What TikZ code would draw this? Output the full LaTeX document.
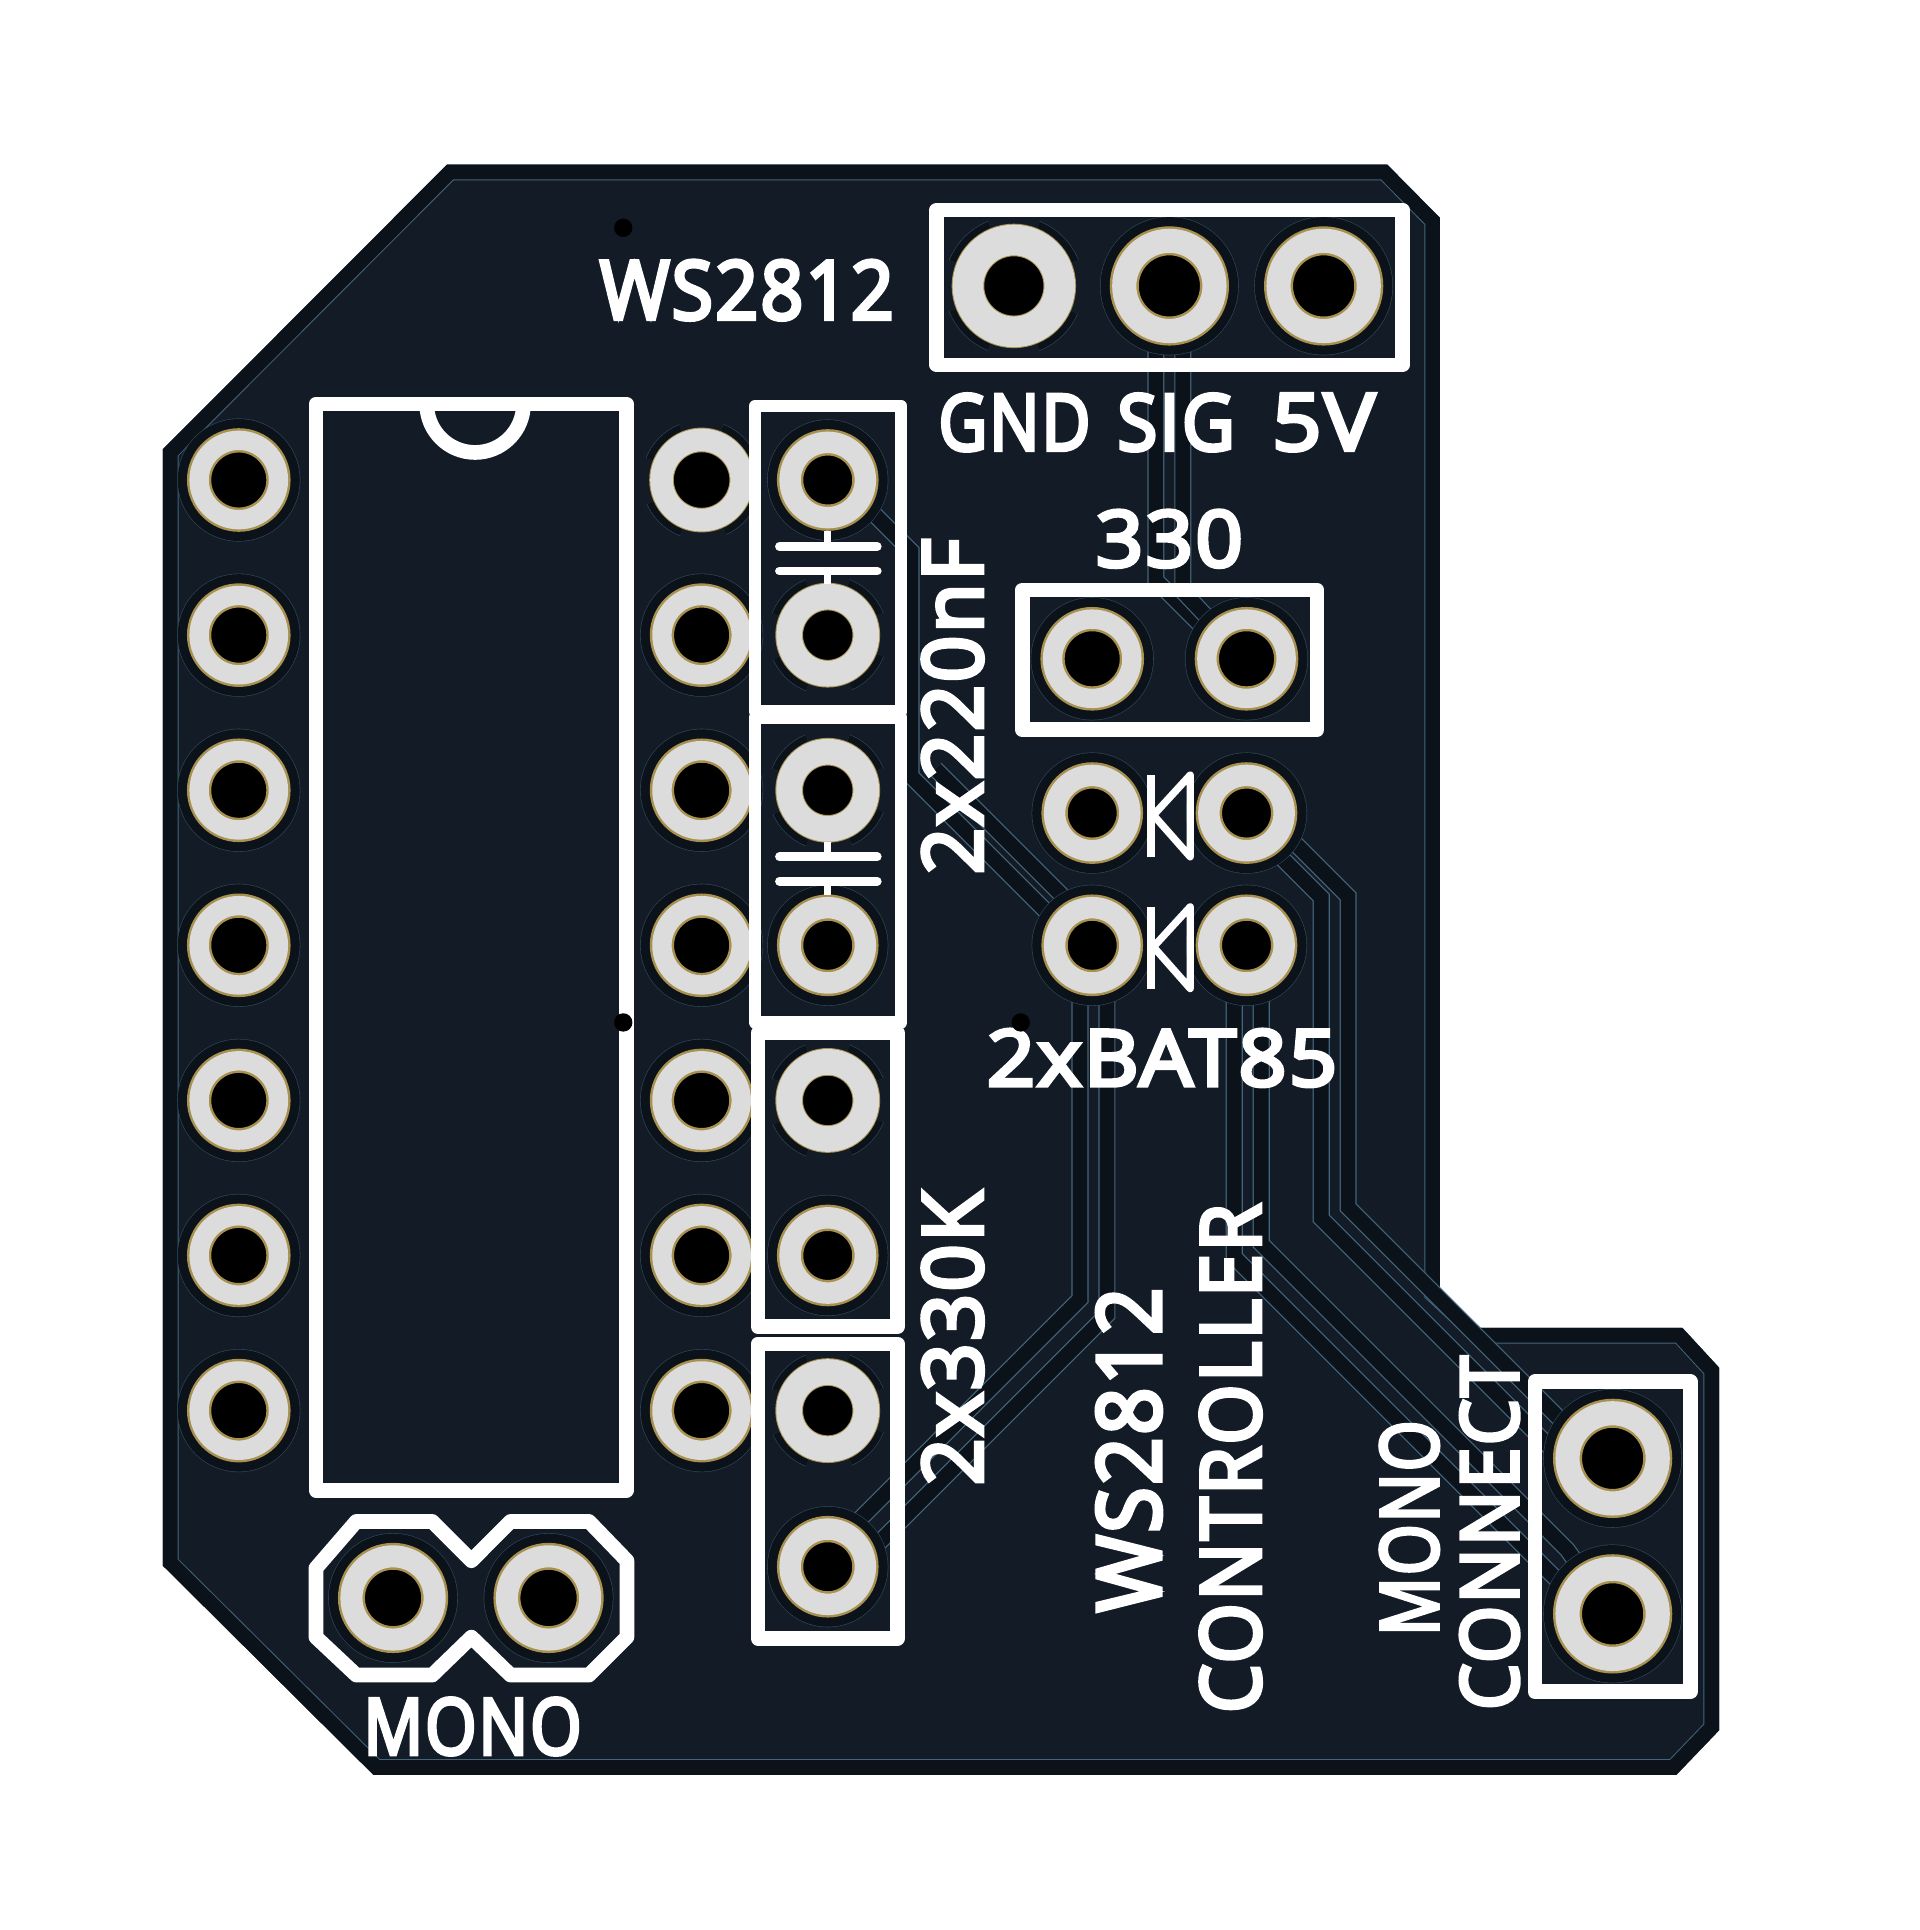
\documentclass[tikz,border=0pt]{standalone}
\usepackage{fontspec}
\usepackage{graphicx}
\usetikzlibrary{backgrounds}
\setmainfont{Liberation Sans}
\newfontfamily\silkfont[FakeBold=5,LetterSpace=3]{Open Sans}
\definecolor{boardblue}{HTML}{131C26}
\definecolor{copperdark}{HTML}{0B1219}
\definecolor{trackedge}{HTML}{44657C}
\definecolor{padgrey}{HTML}{DCDCDC}
\definecolor{padgold}{HTML}{A8914F}
\newcommand{\silktext}[3]{\resizebox{#1pt}{#2pt}{\silkfont #3}}
\tikzset{
  pad/.style 2 args={circle,inner sep=0pt,minimum size=#1pt,draw=padgrey,line width=#2pt,
    preaction={draw=trackedge!60!boardblue,line width=#2pt+10pt},
    preaction={draw=copperdark,line width=#2pt+9.5pt},
    preaction={fill=black,draw=none},
    preaction={draw=padgold,line width=#2pt+2pt}},
  solidpad/.style n args={3}{circle,inner sep=0pt,minimum size=#1pt,draw=padgrey,line width=#2pt,
    preaction={draw=trackedge!60!boardblue,line width=#2pt+7pt,dash pattern=on #3pt off #3pt,dash phase=1.5*#3pt},
    preaction={draw=copperdark,line width=#2pt+6.5pt,dash pattern=on #3pt off #3pt,dash phase=1.5*#3pt},
    preaction={fill=black,draw=none},
    preaction={draw=padgold,line width=#2pt+0.8pt}},
  icpad/.style={pad={32.4}{7.9}},
  cappad/.style={pad={30.75}{8.75}},
  widepad/.style={pad={36.85}{9.85}},
  monopad/.style={pad={34}{9}},
  icsolid/.style={solidpad={32.75}{9.25}{12.9}},
  capsolid/.style={solidpad={31.5}{10.5}{12.4}},
  widesolid/.style={solidpad={37.5}{12.5}{14.7}},
  track/.style={draw=copperdark,line width=6pt,preaction={draw=trackedge,line width=7pt}},
  silk/.style={draw=white,line width=6pt,line join=round},
  silklabel/.style={text=white,inner sep=0pt,outer sep=0pt},
  viadot/.style={fill=black}
}
\begin{document}
\begin{tikzpicture}[x=0.5pt,y=-0.5pt]
  \useasboundingbox (0,0) rectangle (1568,1576.2);
  % pads
  \node[icpad] (pl1) at (195,392) {};
  \node[icpad] (pl2) at (195,518.7) {};
  \node[icpad] (pl3) at (195,645.4) {};
  \node[icpad] (pl4) at (195,772) {};
  \node[icpad] (pl5) at (195,898.7) {};
  \node[icpad] (pl6) at (195,1025.3) {};
  \node[icpad] (pl7) at (195,1152) {};
  \node[icsolid] (pr1) at (573,392) {};
  \node[icpad] (pr2) at (573,518.7) {};
  \node[icpad] (pr3) at (573,645.4) {};
  \node[icpad] (pr4) at (573,772) {};
  \node[icpad] (pr5) at (573,898.7) {};
  \node[icpad] (pr6) at (573,1025.3) {};
  \node[icpad] (pr7) at (573,1152) {};
  \node[cappad] (cc1) at (676,392) {};
  \node[capsolid] (cc2) at (676,518.7) {};
  \node[capsolid] (cc3) at (676,645.4) {};
  \node[cappad] (cc4) at (676,772) {};
  \node[capsolid] (cc5) at (676,898.7) {};
  \node[cappad] (cc6) at (676,1025.3) {};
  \node[capsolid] (cc7) at (676,1152) {};
  \node[cappad] (cc8) at (676,1279.5) {};
  \node[widesolid] (hd1) at (828,233.5) {};
  \node[widepad] (hd2) at (955,233.5) {};
  \node[widepad] (hd3) at (1081,233.5) {};
  \node[icpad] (rs1) at (892,538) {};
  \node[icpad] (rs2) at (1018,538) {};
  \node[cappad] (da1) at (892,664) {};
  \node[cappad] (db1) at (1018,664) {};
  \node[cappad] (da2) at (892,772) {};
  \node[cappad] (db2) at (1018,772) {};
  \node[monopad] (mo1) at (321,1305) {};
  \node[monopad] (mo2) at (448,1305) {};
  \node[widepad] (cn1) at (1317,1191) {};
  \node[widepad] (cn2) at (1317,1318) {};
  \coordinate (tracktop) at (764,628);
  \begin{pgfonlayer}{background}
    % board with its pour edge
    \def\boardoutline{(365,134.5) -- (1133,134.5) -- (1176,178) -- (1176,1054) -- (1209,1084.5) -- (1374,1084.5) -- (1404,1117) -- (1404,1413) -- (1369,1449.5) -- (305,1449.5) -- (133,1278.6) -- (133,367) -- cycle}
    \fill[boardblue] \boardoutline;
    \begin{scope}
      \clip \boardoutline;
      \draw[trackedge,line width=12.8pt] \boardoutline;
      \draw[copperdark,line width=12pt] \boardoutline;
    \end{scope}
    % tracks
    \draw[track] (hd2.center) -- (944,250) -- (944,474) -- (1000,530) -- (rs2);
    \draw[track] (hd2.center) -- (966,250) -- (966,483) -- (rs2);
    \draw[track] (cc1.center) -- (676,382) -- (744,450) -- (744,634) -- (862,752) -- (da2);
    \draw[track] (tracktop) -- (880,744) -- (da2);
    \draw[track] (db1.center) -- (1030,661) -- (1101,732) -- (1101,986) -- (1290,1175) -- (cn1);
    \draw[track] (db1.center) -- (1012,666) -- (1079,733) -- (1079,995) -- (1270,1186) -- (cn1);
    \draw[track] (db2.center) -- (1008,790) -- (1008,1026.6) -- (1270,1288.6) -- (cn2);
    \draw[track] (db2.center) -- (1030,790) -- (1030,1015.7) -- (1280,1265.7) -- (cn2);
    \draw[track] (da2.center) -- (882,790) -- (882,1060.8) -- (700,1242.8) -- (cc8);
    \draw[track] (da2.center) -- (904,790) -- (904,1073.7) -- (700,1277.7) -- (cc8);
  \end{pgfonlayer}
  % silk outlines
  \draw[silk] (258,330) rectangle (511.7,1217);
  \draw[silk] (348.5,330) arc (180:0:39.5);
  \draw[silk,line width=5pt] (616.6,331.7) rectangle (736,581);
  \draw[silk,line width=5pt] (616.6,586) rectangle (736,835);
  \draw[silk] (619,843.5) rectangle (733,1083.5);
  \draw[silk] (619,1097.5) rectangle (733,1338);
  \draw[silk] (765,171.5) rectangle (1145.4,298);
  \draw[silk] (834.8,481.8) rectangle (1075.6,596);
  \draw[silk] (1253.5,1128.5) rectangle (1380.5,1381.6);
  \draw[silk] (258,1280.7) -- (291,1242.5) -- (353,1242.5) -- (385,1274.6) -- (417,1242.5) -- (481,1242.5) -- (512,1274.6) -- (512,1337) -- (481,1368) -- (417,1368) -- (385,1337) -- (353,1368) -- (291,1368) -- (258,1337) -- cycle;
  % capacitor symbols
  \draw[silk,line width=3.5pt,line cap=round] (636.5,446.3) -- (716.5,446.3);
  \draw[silk,line width=3.5pt,line cap=round] (636.5,466.3) -- (716.5,466.3);
  \draw[silk,line width=3pt] (676,434) -- (676,446.3);
  \draw[silk,line width=3pt] (676,466.3) -- (676,477);
  \draw[silk,line width=3.5pt,line cap=round] (636.5,699.7) -- (716.5,699.7);
  \draw[silk,line width=3.5pt,line cap=round] (636.5,719.7) -- (716.5,719.7);
  \draw[silk,line width=3pt] (676,688) -- (676,699.7);
  \draw[silk,line width=3pt] (676,719.7) -- (676,731);
  % diode symbols
  \draw[silk,line width=3pt] (940,633) -- (940,699.7);
  \draw[silk,line width=3pt] (972,633) -- (942,665.7) -- (972,699.7) -- cycle;
  \draw[silk,line width=3pt] (940,740.6) -- (940,807.3);
  \draw[silk,line width=3pt] (972,740.6) -- (942,773.3) -- (972,807.3) -- cycle;
  % labels
  \node[silklabel] (lblws) at (610,237) {\silktext{120}{24}{WS2812}};
  \node[silklabel] (lblgnd) at (828.5,345) {\silktext{62}{23}{GND}};
  \node[silklabel] (lblsig) at (960.5,345) {\silktext{48}{23}{SIG}};
  \node[silklabel] (lblfive) at (1081,345) {\silktext{42}{23}{5V}};
  \node[silklabel] (lblres) at (955,440) {\silktext{60}{23}{330}};
  \node[silklabel,rotate=90] (lblcap) at (778,577) {\silktext{137}{24.5}{2x220nF}};
  \node[silklabel,rotate=90] (lblkilo) at (778,1093) {\silktext{120}{24.5}{2x330K}};
  \node[silklabel] (lblbat) at (949,864) {\silktext{143}{23}{2xBAT85}};
  \node[silklabel,rotate=90] (lblstrip) at (922,1184) {\silktext{132.5}{26}{WS2812}};
  \node[silklabel,rotate=90] (lblctrl) at (1005,1191) {\silktext{208}{24.5}{CONTROLLER}};
  \node[silklabel,rotate=90] (lblmono) at (1151,1248) {\silktext{88}{23.5}{MONO}};
  \node[silklabel,rotate=90] (lblconn) at (1216.5,1252) {\silktext{144.5}{23.5}{CONNECT}};
  \node[silklabel] (lblbot) at (386,1410) {\silktext{89}{23}{MONO}};
  % drill dots
  \fill[viadot] (509,186) circle [radius=7.5];
  \fill[viadot] (509,835) circle [radius=7.5];
  \fill[viadot] (833.6,835) circle [radius=7.5];
\end{tikzpicture}
\end{document}
